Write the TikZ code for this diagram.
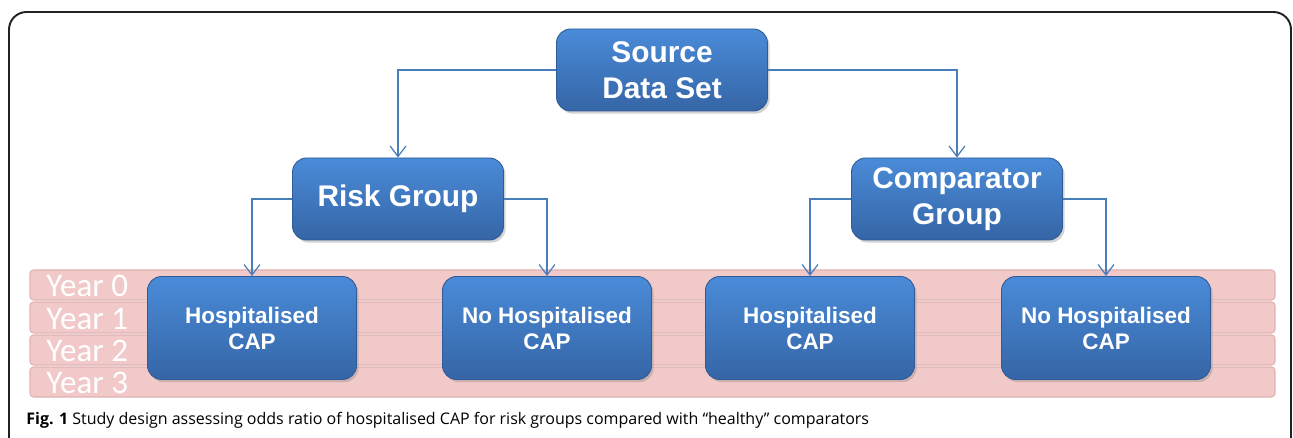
\documentclass[tikz,border=0pt]{standalone}
\usepackage{fontspec}
\setmainfont{Liberation Sans}
\newfontfamily\capfont{Open Sans}
\newfontfamily\yearfont{Carlito}
\usetikzlibrary{arrows.meta,shadows}
\definecolor{boxtop}{HTML}{4A8BD8}
\definecolor{boxbot}{HTML}{3565A6}
\definecolor{boxedge}{HTML}{2F5C98}
\definecolor{linkc}{HTML}{4A7EBB}
\definecolor{barfill}{HTML}{F2C9C9}
\definecolor{baredge}{HTML}{E0B3B3}
\definecolor{framec}{HTML}{222222}
\begin{document}
\begin{tikzpicture}[x=0.02cm,y=-0.02cm,
  bluebox/.style={rounded corners=8pt,top color=boxtop,bottom color=boxbot,draw=boxedge,line width=0.5pt,
    text=white,font=\bfseries,align=center,inner sep=0pt,
    drop shadow={opacity=0.35,shadow xshift=1.2pt,shadow yshift=-1.5pt}},
  bigbox/.style={bluebox,minimum width=211*0.02cm,minimum height=82*0.02cm,font=\fontsize{17}{20.5}\selectfont\bfseries},
  smallbox/.style={bluebox,minimum width=209*0.02cm,minimum height=103*0.02cm,font=\fontsize{12.8}{14.8}\selectfont\bfseries},
  yearbar/.style={rounded corners=2pt,fill=barfill,draw=baredge,line width=0.6pt},
  yearlbl/.style={text=white,font=\yearfont\fontsize{18.8}{19}\selectfont,anchor=west,inner sep=0pt},
  link/.style={draw=linkc,line width=0.7pt,-{Straight Barb[length=6pt,width=9pt,line width=0.7pt]}}]
\useasboundingbox (0,0) rectangle (1293,438);
% frame
\draw[framec,line width=1.1pt,rounded corners=10pt] (9,460) -- (9,12) -- (1291,12) -- (1291,460);
% year bars
\foreach \i/\ya/\yb in {0/270/300,1/302/333,2/335/365,3/367/397}{
  \draw[yearbar] (30,\ya) rectangle (1275,\yb);
  \node[yearlbl] (yl\i) at (46,{(\ya+\yb)/2+1}) {Year \i};
}
% nodes
\node[bigbox] (src) at (662,70) {Source\\Data Set};
\node[bigbox] (risk) at (398,199) {Risk Group};
\node[bigbox] (comp) at (957,199) {Comparator\\Group};
\node[smallbox] (h1) at (252,328) {Hospitalised\\CAP};
\node[smallbox] (n1) at (547,328) {No Hospitalised\\CAP};
\node[smallbox] (h2) at (810,328) {Hospitalised\\CAP};
\node[smallbox] (n2) at (1106,328) {No Hospitalised\\CAP};
% connectors
\draw[link] (src.west) -| (risk.north);
\draw[link] (src.east) -| (comp.north);
\draw[link] (risk.west) -| (h1.north);
\draw[link] (risk.east) -| (n1.north);
\draw[link] (comp.west) -| (h2.north);
\draw[link] (comp.east) -| (n2.north);
% caption
\node[anchor=west,inner sep=0pt,font=\capfont\fontsize{9.1}{10}\selectfont] (cap) at (26,420)
  {\textbf{Fig. 1} Study design assessing odds ratio of hospitalised CAP for risk groups compared with “healthy” comparators};
\end{tikzpicture}
\end{document}
